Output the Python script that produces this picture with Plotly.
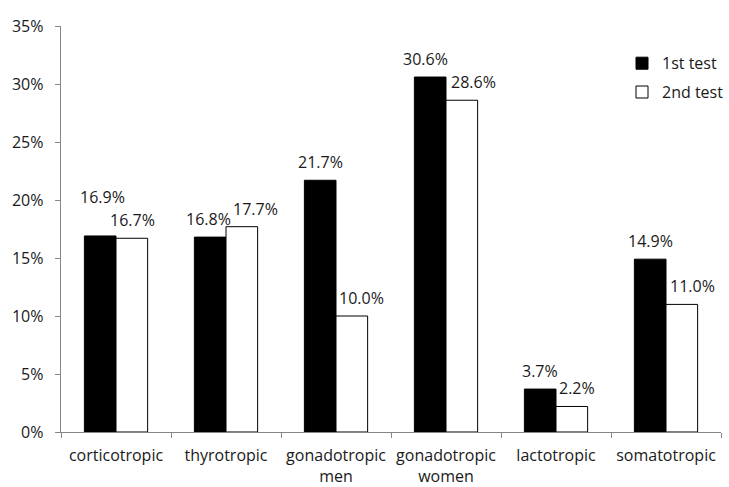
import plotly.graph_objects as go

categories = ["corticotropic", "thyrotropic", "gonadotropic<br>men", "gonadotropic<br>women", "lactotropic", "somatotropic"]
first_test = [16.9, 16.8, 21.7, 30.6, 3.7, 14.9]
second_test = [16.7, 17.7, 10.0, 28.6, 2.2, 11.0]
y_ticks = [0, 5, 10, 15, 20, 25, 30, 35]
y_tick_labels = [f"{v}%\u00a0\u00a0" for v in y_ticks]

FONT = "Open Sans"
TXT = "#1a1a1a"
AX = "#868686"

fig = go.Figure()
fig.add_trace(go.Bar(name="1st test", x=categories, y=first_test, legendgroup="a",
                     marker=dict(color="black", line=dict(color="black", width=1))))
fig.add_trace(go.Bar(name="2nd test", x=categories, y=second_test, legendgroup="b",
                     marker=dict(color="white", line=dict(color="black", width=1))))

# value labels (Excel style, placed above bars; some nudged to avoid overlap)
nudge_x = {(0, 0): 2, (0, 1): -2, (1, 1): 13, (1, 2): 9, (0, 3): -5, (1, 3): 11,
           (1, 4): 5, (1, 5): 10}
nudge_y = {(0, 0): 21}
for s, (vals, xs) in enumerate([(first_test, -16), (second_test, 16)]):
    for i, v in enumerate(vals):
        fig.add_annotation(x=categories[i], y=v, text=f"{v:.1f}%", showarrow=False,
                           xshift=xs + nudge_x.get((s, i), 0),
                           yshift=18 + nudge_y.get((s, i), 0),
                           yanchor="middle", font=dict(family=FONT, size=16, color=TXT))

fig.update_layout(
    width=729, height=487,
    margin=dict(l=61, r=0, t=26, b=53),
    paper_bgcolor="white", plot_bgcolor="white",
    barmode="group", bargap=0.425, bargroupgap=0,
    font=dict(family=FONT, size=16, color=TXT),
    showlegend=True,
    legend=dict(x=0.85, y=0.95, xanchor="left", yanchor="top",
                bgcolor="rgba(0,0,0,0)", font=dict(family=FONT, size=16, color=TXT),
                tracegroupgap=5, itemwidth=30),
)
fig.update_xaxes(showline=True, linecolor=AX, linewidth=1, ticks="outside",
                 tickson="boundaries", ticklen=5, tickcolor=AX, ticklabelstandoff=9,
                 tickfont=dict(family=FONT, size=16, color=TXT), showgrid=False)
fig.update_yaxes(range=[0, 35], tickvals=y_ticks, ticktext=y_tick_labels,
                 showline=True, linecolor=AX, linewidth=1, ticks="outside",
                 ticklen=5, tickcolor=AX, showgrid=False, zeroline=False,
                 tickfont=dict(family=FONT, size=16, color=TXT))

fig.write_html("out.html", config={"displayModeBar": False},
               post_script="document.body.style.margin='0';document.body.style.overflow='hidden';")
